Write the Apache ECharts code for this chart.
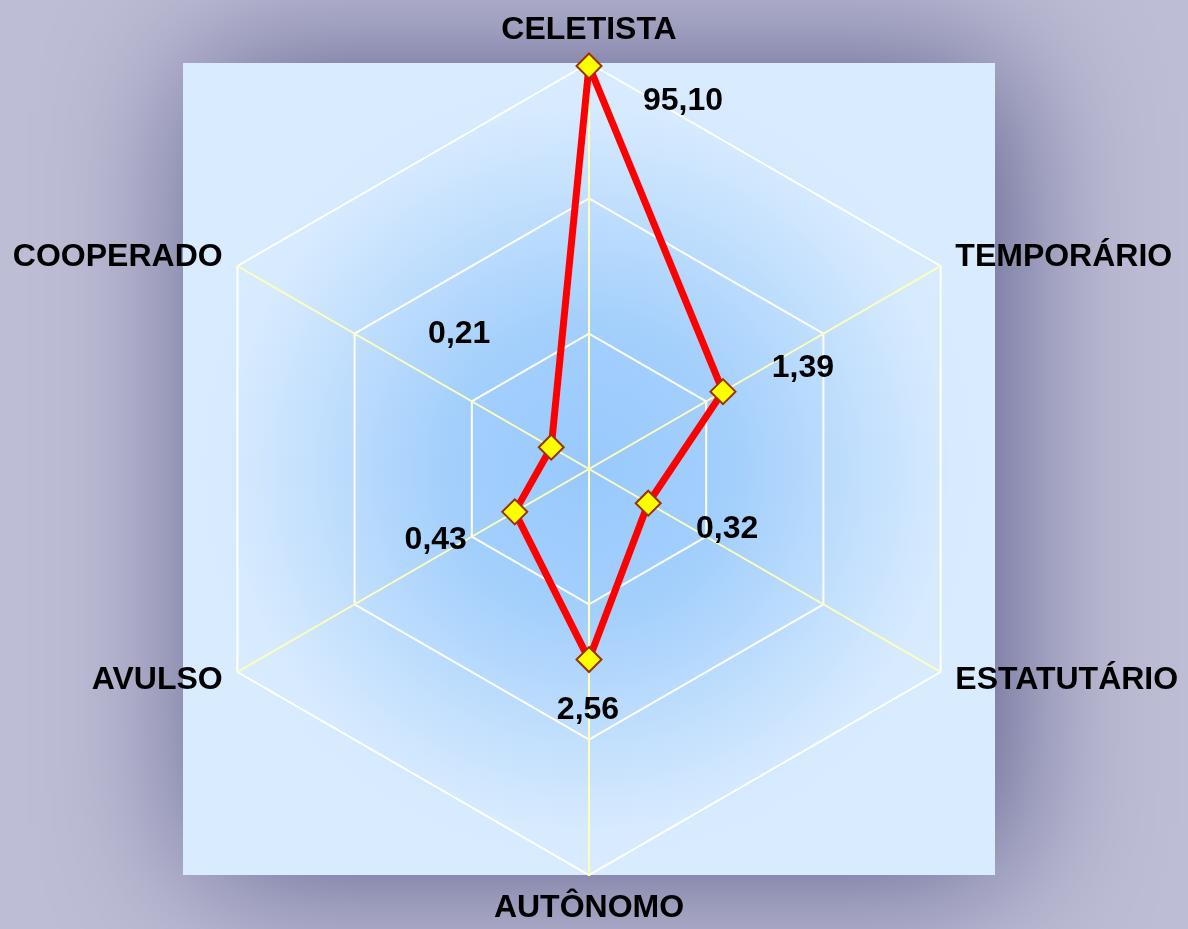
<!DOCTYPE html>
<html>
<head>
<meta charset="utf-8">
<script src="https://cdn.jsdelivr.net/npm/echarts@6/dist/echarts.min.js"></script>
<style>
  html, body { margin: 0; padding: 0; }
  #chart { width: 1188px; height: 929px; }
</style>
</head>
<body>
<div id="chart"></div>
<script>
// categories clockwise from the top
const categories = ['CELETISTA', 'TEMPORÁRIO', 'ESTATUTÁRIO', 'AUTÔNOMO', 'AVULSO', 'COOPERADO'];
const values = [95.10, 1.39, 0.32, 2.56, 0.43, 0.21];

// where each value label sits relative to its marker
const labelOffsets = [[94, 35], [80, -23], [79, 26], [-1, 51], [-79, 28], [-92, -113]];

const center = [589, 469];
const radius = 406;
const font = 'Liberation Sans, Arial, sans-serif';

const chart = echarts.init(document.getElementById('chart'));

const step = 360 / categories.length;
const points = values.map((v, i) => ({
    value: [v, i * step],
    label: { offset: labelOffsets[i] }
}));
// close the polygon
points.push({ value: [values[0], 360], symbol: 'none', label: { show: false } });

// radar indicators run counter-clockwise
const indicatorNames = [categories[0]].concat(categories.slice(1).reverse());

const option = {
    backgroundColor: '#bdbdd5',
    graphic: [
        {
            type: 'rect',
            z: -10,
            shape: { x: center[0] - radius, y: center[1] - radius, width: radius * 2, height: radius * 2 },
            style: {
                fill: new echarts.graphic.RadialGradient(0.5, 0.5, 0.5, [
                    { offset: 0, color: '#99c9fd' },
                    { offset: 0.35, color: '#a3cffc' },
                    { offset: 0.9, color: '#d8ebfe' },
                    { offset: 1, color: '#d9ecff' }
                ]),
                shadowBlur: 140,
                shadowOffsetX: 14,
                shadowColor: 'rgba(65, 65, 120, 0.8)'
            }
        }
    ],
    radar: {
        center: center,
        radius: radius,
        startAngle: 90,
        splitNumber: 3,
        shape: 'polygon',
        nameGap: 17,
        axisName: {
            color: '#000',
            fontSize: 32,
            fontWeight: 'bold',
            fontFamily: font
        },
        axisLine: { lineStyle: { color: '#ffffb8', width: 2 } },
        splitLine: { lineStyle: { color: '#ffffff', width: 2 } },
        splitArea: { show: false },
        axisTick: { show: false },
        axisLabel: { show: false },
        indicator: indicatorNames.map(n => ({ name: n, min: 0, max: 3 }))
    },
    polar: {
        center: center,
        radius: radius
    },
    angleAxis: {
        type: 'value',
        min: 0,
        max: 360,
        startAngle: 90,
        clockwise: true,
        show: false,
        splitLine: { show: false }
    },
    radiusAxis: {
        type: 'log',
        logBase: 10,
        min: 0.1,
        max: 100,
        show: false,
        splitLine: { show: false }
    },
    series: [
        {
            type: 'line',
            coordinateSystem: 'polar',
            data: points,
            symbol: 'diamond',
            symbolSize: 25,
            z: 5,
            lineStyle: { color: '#ff0000', width: 7 },
            itemStyle: { color: '#ffff00', borderColor: '#993300', borderWidth: 2 },
            label: {
                show: true,
                position: 'inside',
                color: '#000',
                fontSize: 32,
                fontWeight: 'bold',
                fontFamily: font,
                formatter: p => p.value[0].toFixed(2).replace('.', ',')
            },
            emphasis: { disabled: true },
            animation: false
        }
    ]
};

chart.setOption(option);
</script>
</body>
</html>
